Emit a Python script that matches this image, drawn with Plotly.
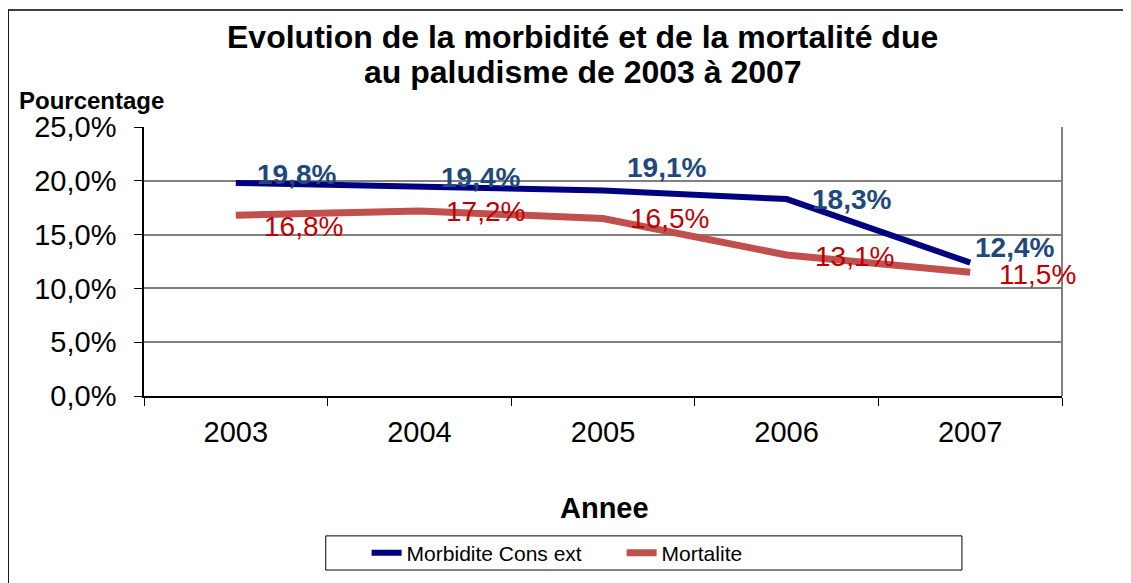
import plotly.graph_objects as go

years = ["2003", "2004", "2005", "2006", "2007"]
morbidite = [19.8, 19.4, 19.1, 18.3, 12.4]
mortalite = [16.8, 17.2, 16.5, 13.1, 11.5]
y_ticks = [0, 5, 10, 15, 20, 25]

# pixel nudges of the data labels (as placed in the original)
blue_dx = [19, 20, 22, 23, 3]
blue_dy = [8, 10, 23, 0, 15]
red_dx = [26, 25, 25, 26, 27]
red_dy = [-11, -1, 0, -1, -2]

BLUE = "#000080"
BLUE_LBL = "#1F497D"
RED = "#C0504D"
RED_LBL = "#C00000"
FONT = "Liberation Sans, Arial, sans-serif"


def fmt(v):
    return f"{v:.1f}%".replace(".", ",")


fig = go.Figure()
fig.add_trace(go.Scatter(x=years, y=morbidite, mode="lines", name="Morbidite Cons ext",
                         line=dict(color=BLUE, width=6)))
fig.add_trace(go.Scatter(x=years, y=mortalite, mode="lines", name="Mortalite",
                         line=dict(color=RED, width=7)))

# data labels (x given as category index, "2003" would be read as an index)
for i, v in enumerate(morbidite):
    fig.add_annotation(x=i, y=v, text=f"<b>{fmt(v)}</b>", showarrow=False,
                       xanchor="left", yanchor="middle", xshift=blue_dx[i], yshift=blue_dy[i],
                       font=dict(size=28, color=BLUE_LBL, family=FONT))
for i, v in enumerate(mortalite):
    fig.add_annotation(x=i, y=v, text=fmt(v), showarrow=False,
                       xanchor="left", yanchor="middle", xshift=red_dx[i], yshift=red_dy[i],
                       font=dict(size=28, color=RED_LBL, family=FONT))

# title, axis titles
fig.add_annotation(xref="paper", yref="paper", x=0.478, y=1.335,
                   text="<b>Evolution de la morbidité et de la mortalité due</b>",
                   showarrow=False, xanchor="center", yanchor="middle",
                   font=dict(size=32, color="black", family=FONT))
fig.add_annotation(xref="paper", yref="paper", x=0.478, y=1.204,
                   text="<b>au paludisme de 2003 à 2007</b>",
                   showarrow=False, xanchor="center", yanchor="middle",
                   font=dict(size=32, color="black", family=FONT))
fig.add_annotation(xref="paper", yref="paper", x=-0.138, y=1.10, text="<b>Pourcentage</b>",
                   showarrow=False, xanchor="left", yanchor="middle",
                   font=dict(size=24, color="black", family=FONT))
fig.add_annotation(xref="paper", yref="paper", x=0.502, y=-0.416, text="<b>Annee</b>",
                   showarrow=False, xanchor="center", yanchor="middle",
                   font=dict(size=29, color="black", family=FONT))

# outer chart border (top and left visible)
fig.add_shape(type="rect", xref="paper", yref="paper", x0=-0.148, x1=1.2, y0=-1.0, y1=1.435,
              line=dict(color="black", width=1.5))
# legend box
fig.add_shape(type="rect", xref="paper", yref="paper", x0=0.198, x1=0.891, y0=-0.647, y1=-0.520,
              line=dict(color="black", width=1), fillcolor="white", layer="below")
# right border of plot area
fig.add_shape(type="line", xref="paper", yref="paper", x0=1, x1=1, y0=0, y1=1,
              line=dict(color="#808080", width=2))

fig.update_layout(
    width=1131, height=583,
    paper_bgcolor="white", plot_bgcolor="white",
    margin=dict(l=136, r=77, t=119, b=195, autoexpand=False),
    font=dict(family=FONT, color="black", size=24),
    showlegend=True,
    legend=dict(orientation="h", x=0.2425, xanchor="left", y=-0.584, yanchor="middle",
                borderwidth=0, bgcolor="rgba(0,0,0,0)",
                font=dict(size=21, family=FONT), entrywidth=210, entrywidthmode="pixels"),
)
fig.update_xaxes(type="category", range=[-0.5, 4.5], tickson="boundaries", ticks="outside",
                 ticklen=8, tickcolor="black", showline=True, linecolor="black", linewidth=1.5,
                 showgrid=False, tickfont=dict(size=29), ticklabelstandoff=9,
                 automargin=False, tickangle=0)
fig.update_yaxes(range=[0, 25], tickvals=y_ticks, ticktext=[fmt(v) for v in y_ticks],
                 ticks="outside", ticklen=8, tickcolor="black", showline=True,
                 linecolor="black", linewidth=1.5, showgrid=True, gridcolor="#808080",
                 gridwidth=1.5, zeroline=False, tickfont=dict(size=29),
                 ticklabelstandoff=12, automargin=False)

fig.write_html("out.html")
